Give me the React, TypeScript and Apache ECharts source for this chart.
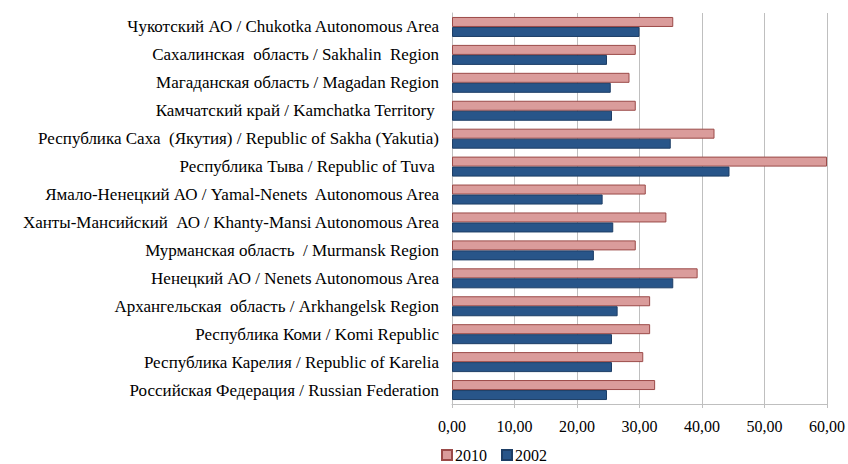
import React, { useEffect, useRef } from "react";
import * as echarts from "echarts";

const categories = [
  "Чукотский АО / Chukotka Autonomous Area",
  "Сахалинская  область / Sakhalin  Region",
  "Магаданская область / Magadan Region",
  "Камчатский край / Kamchatka Territory ",
  "Республика Саха  (Якутия) / Republic of Sakha (Yakutia)",
  "Республика Тыва / Republic of Tuva ",
  "Ямало-Ненецкий АО / Yamal-Nenets  Autonomous Area",
  "Ханты-Мансийский  АО / Khanty-Mansi Autonomous Area",
  "Мурманская область  / Murmansk Region",
  "Ненецкий АО / Nenets Autonomous Area",
  "Архангельская  область / Arkhangelsk Region",
  "Республика Коми / Komi Republic",
  "Республика Карелия / Republic of Karelia",
  "Российская Федерация / Russian Federation",
];

const values2010 = [35.4, 29.4, 28.4, 29.4, 42.0, 60.0, 31.0, 34.3, 29.4, 39.3, 31.7, 31.7, 30.6, 32.5];
const values2002 = [30.0, 24.8, 25.4, 25.6, 35.0, 44.4, 24.1, 25.8, 22.7, 35.4, 26.5, 25.6, 25.6, 24.8];

const xTicks = { min: 0, max: 60, interval: 10 };

export default function App() {
  const ref = useRef<HTMLDivElement>(null);
  useEffect(() => {
    if (!ref.current) return;
    const chart = echarts.init(ref.current, undefined, { renderer: "svg" });
    const font = "'Liberation Serif', 'Times New Roman', serif";
    chart.setOption({
      animation: false,
      backgroundColor: "#ffffff",
      grid: { left: 452, right: 21, top: 13, bottom: 60, containLabel: false },
      legend: {
        data: ["2010", "2002"],
        left: 441,
        top: 447,
        padding: 0,
        itemWidth: 10,
        itemHeight: 10,
        itemGap: 14,
        icon: "rect",
        textStyle: { fontFamily: font, fontSize: 16, color: "#000", padding: [0, 0, 0, -2] },
      },
      xAxis: {
        type: "value",
        min: xTicks.min,
        max: xTicks.max,
        interval: xTicks.interval,
        axisLine: { show: true, lineStyle: { color: "#BFBFBF", width: 1 } },
        axisTick: { show: true, length: 4, lineStyle: { color: "#BFBFBF" } },
        splitLine: { show: true, lineStyle: { color: "#BFBFBF", width: 1 } },
        axisLabel: {
          margin: 14,
          fontFamily: font,
          fontSize: 16,
          color: "#000",
          formatter: (v: number) => v.toFixed(2).replace(".", ","),
        },
      },
      yAxis: {
        type: "category",
        data: categories,
        inverse: true,
        axisLine: { show: true, lineStyle: { color: "#BFBFBF", width: 1 } },
        axisTick: { show: false },
        axisLabel: {
          margin: 13,
          fontFamily: font,
          fontSize: 17,
          color: "#000",
        },
      },
      series: [
        {
          name: "2010",
          type: "bar",
          data: values2010,
          barWidth: 10,
          barGap: "0%",
          itemStyle: { color: "#DA9C9B", borderColor: "#9B4A48", borderWidth: 1 },
        },
        {
          name: "2002",
          type: "bar",
          data: values2002,
          barWidth: 10,
          barGap: "0%",
          itemStyle: { color: "#285589", borderColor: "#1D3E66", borderWidth: 1 },
        },
      ],
    });
    return () => chart.dispose();
  }, []);
  return (
    <div
      ref={ref}
      style={{ position: "fixed", left: 0, top: 0, width: 848, height: 464 }}
    />
  );
}
